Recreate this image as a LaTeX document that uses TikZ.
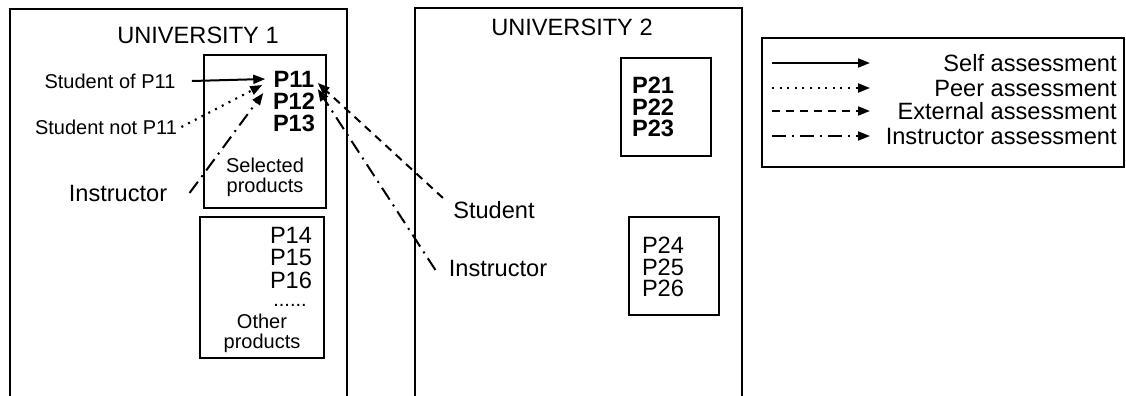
\documentclass[tikz,border=0pt]{standalone}
\usepackage{fontspec}
\setmainfont{Liberation Sans}
\usetikzlibrary{arrows.meta,positioning,calc}

\begin{document}
\begin{tikzpicture}[
    x=0.5pt, y=-0.5pt,
    >={Triangle[length=6pt,width=4.5pt]},
    frame/.style={line width=1.1pt},
    big/.style={font=\fontsize{11.8}{11}\selectfont, inner sep=0pt},
    bigbold/.style={inner sep=0pt, font=\fontsize{11.8}{11}\selectfont\bfseries},
    small/.style={font=\fontsize{10}{10}\selectfont, inner sep=0pt, align=center},
    selfarr/.style={->, line width=1pt},
    peerarr/.style={->, line width=1.1pt, dash pattern=on 1pt off 2.8pt},
    extarr/.style={->, line width=1pt, dash pattern=on 4pt off 3pt},
    instarr/.style={->, line width=1pt, dash pattern=on 7pt off 3pt on 1pt off 3pt},
]

\useasboundingbox (0,0) rectangle (1126,396);
\clip (0,0) rectangle (1126,396);

%-----------------------------------------------------------------------
% universities (open at the bottom)
\draw[frame] (10,9) rectangle (347,410);
\draw[frame] (415,8) rectangle (742,410);
\node[big] (uni1) at (198,35) {UNIVERSITY 1};
\node[big] (uni2) at (572,27) {UNIVERSITY 2};

%-----------------------------------------------------------------------
% products of university 1
\draw[frame] (204,55) rectangle (326,208);
\foreach \i/\Y in {11/79,12/101,13/123}
  \node[bigbold] (p\i) at (294,\Y) {P\i};
\node[small] (sel) at (265,177) {Selected\\products};

\draw[frame] (200,217) rectangle (324,358);
\foreach \i/\Y in {14/235,15/257,16/280}
  \node[big] (p\i) at (291,\Y) {P\i};
\node[small] (dots) at (290,305) {......};
\node[small] (other) at (262,333) {Other\\products};

% products of university 2
\draw[frame] (621,58) rectangle (711,156);
\foreach \i/\Y in {21/85,22/107,23/128}
  \node[bigbold] (p\i) at (653,\Y) {P\i};
\draw[frame] (629,217) rectangle (719,315);
\foreach \i/\Y in {24/245,25/267,26/288}
  \node[big] (p\i) at (663,\Y) {P\i};

%-----------------------------------------------------------------------
% assessors
\node[small] (stud11) at (110,81) {Student of P11};
\node[small] (studnot) at (106,127) {Student not P11};
\node[big] (instr1) at (118,193) {Instructor};
\node[big] (stud2) at (494,210) {Student};
\node[big] (instr2) at (498,268) {Instructor};

% assessments of P11
\draw[selfarr] ([xshift=8pt]stud11.east) -- ([xshift=-4pt]p11.west);
\draw[peerarr] ([xshift=2pt]studnot.east) -- ($(p11.west)+(-11,6)$);
\draw[instarr] ([xshift=11pt]instr1.east) -- ($(p11.west)+(-10,14)$);
\draw[extarr] ($(stud2.north west)+(-10,-3)$) -- ($(p11.east)+(3,4)$);
\draw[instarr] ($(instr2.west)+(-13,2)$) -- ($(p11.east)+(3,10)$);

%-----------------------------------------------------------------------
% legend
\draw[frame] (762,38) rectangle (1124,167);
\foreach \Y/\sty/\txt [count=\k] in {63/selfarr/Self assessment,
    88/peerarr/Peer assessment, 111/extarr/External assessment,
    136/instarr/Instructor assessment}
{
  \node[big, anchor=east] (leg\k) at (1117,\Y) {\txt};
  \draw[\sty] (772,\Y) -- (870,\Y);
}

\end{tikzpicture}
\end{document}
